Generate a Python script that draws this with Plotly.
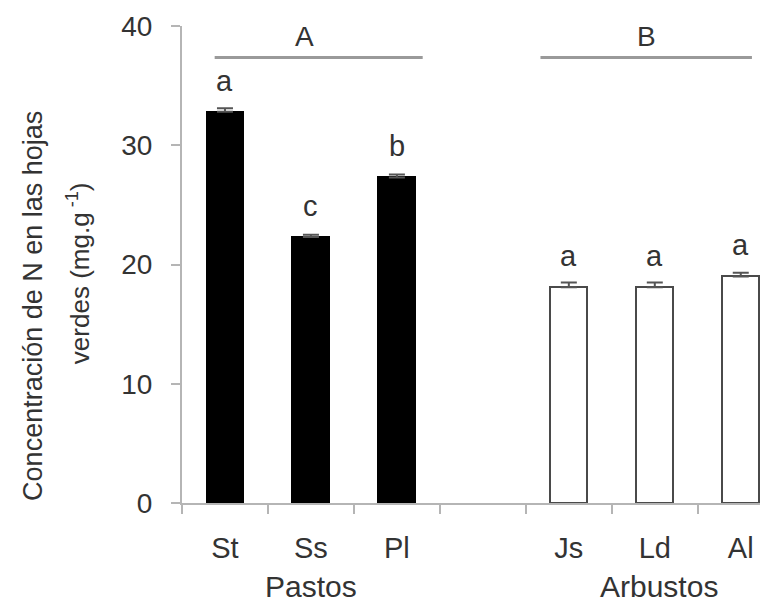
import plotly.graph_objects as go

# ---- data ----
species = ["St", "Ss", "Pl", "Js", "Ld", "Al"]
positions = [0, 1, 2, 4, 5, 6]
n_values = [32.8, 22.3, 27.3, 18.1, 18.1, 19.0]
n_errors = [0.3, 0.2, 0.25, 0.4, 0.4, 0.3]
sig_letters = ["a", "c", "b", "a", "a", "a"]
group_names = ["Pastos", "Arbustos"]
group_centers = [1.0, 5.05]
group_letters = ["A", "B"]
group_line_x0 = [-0.12, 3.67]
group_line_x1 = [2.3, 6.13]
group_letter_x = [0.92, 4.9]
y_ticks = [0, 10, 20, 30, 40]

FONT = "Liberation Sans, Arial, sans-serif"
TXT = "#333333"
AX = "#b5b5b5"

fig = go.Figure()

fills = ["#000000"] * 3 + ["#ffffff"] * 3
lines = ["#000000"] * 3 + ["#4a4a4a"] * 3

fig.add_trace(go.Bar(
    x=positions, y=n_values, width=0.43,
    marker=dict(color=fills, line=dict(color=lines, width=2)),
    error_y=dict(type="data", array=n_errors, arrayminus=[0]*6, symmetric=False,
                 color="#555555", thickness=2, width=8),
    showlegend=False, hoverinfo="skip",
))

# significance letters above bars
for xp, v, e, letter in zip(positions, n_values, n_errors, sig_letters):
    fig.add_annotation(x=xp, y=v, text=letter, showarrow=False,
                       xref="x", yref="y", yanchor="middle", yshift=31,
                       font=dict(family=FONT, size=29, color=TXT))

# group lines and letters
for x0, x1, lx, L in zip(group_line_x0, group_line_x1, group_letter_x, group_letters):
    fig.add_shape(type="line", x0=x0, x1=x1, y0=37.35, y1=37.35, xref="x", yref="y",
                  line=dict(color="#9a9a9a", width=3))
    fig.add_annotation(x=lx, y=37.35, text=L, showarrow=False, xref="x", yref="y",
                       yanchor="middle", yshift=21,
                       font=dict(family=FONT, size=28, color=TXT))

# group names under x axis
for gx, gname in zip(group_centers, group_names):
    fig.add_annotation(x=gx, y=-0.2117, text=gname, showarrow=False,
                       xref="x", yref="paper", yanchor="bottom", borderpad=0,
                       font=dict(family=FONT, size=30, color=TXT))

# y-axis title (two lines)
fig.add_annotation(x=-0.251, y=0.413, text="Concentración de N en las hojas",
                   showarrow=False, xref="paper", yref="paper", textangle=-90,
                   xanchor="center", yanchor="middle",
                   font=dict(family=FONT, size=27, color=TXT))
fig.add_annotation(x=-0.175, y=0.482, text="verdes (mg.g<sup> -1</sup>)",
                   showarrow=False, xref="paper", yref="paper", textangle=-90,
                   xanchor="center", yanchor="middle",
                   font=dict(family=FONT, size=26, color=TXT))

fig.update_layout(
    width=768, height=602,
    margin=dict(l=174, r=0, t=18, b=107),
    plot_bgcolor="white", paper_bgcolor="white",
    font=dict(family=FONT, color=TXT),
    bargap=0,
)
fig.update_xaxes(
    range=[-0.5, 6.41], tickmode="array", tickvals=positions, ticktext=species,
    ticks="", showgrid=False, zeroline=False,
    showline=True, linecolor=AX, linewidth=2,
    tickfont=dict(family=FONT, size=29, color=TXT),
    ticklabelstandoff=18,
    minor=dict(tickvals=[-0.5, 0.5, 1.5, 2.5, 3.5, 4.5, 5.5], ticks="outside",
               ticklen=9, tickcolor=AX, tickwidth=2, showgrid=False),
)
fig.update_yaxes(
    range=[0, 40], tickmode="array", tickvals=y_ticks,
    ticks="outside", ticklen=9, tickcolor=AX, tickwidth=2,
    showgrid=False, zeroline=False,
    showline=True, linecolor=AX, linewidth=2,
    tickfont=dict(family=FONT, size=28, color=TXT),
    ticklabelstandoff=13,
)

fig.write_html("out.html")
